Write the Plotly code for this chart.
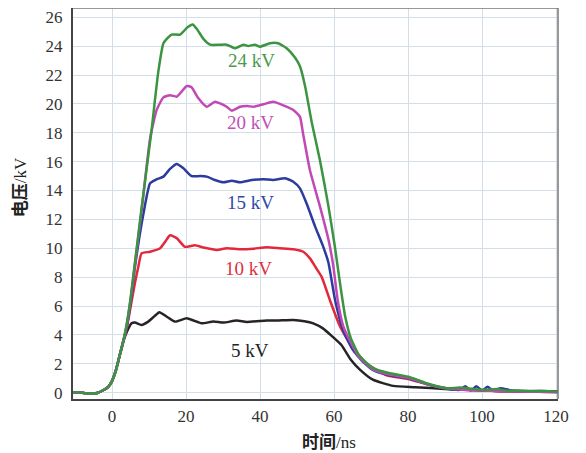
import plotly.graph_objects as go

# ---- data (time in ns, voltage in kV) ----
t_24 = [-10.5,-8,-6,-4,-2.5,-1,0,1,2,3,4,5,6.2,8,10.7,12.5,13.9,14.8,16.1,18.4,20.4,21.8,22.9,24.7,26.5,29.2,31,33.2,35.5,36.8,38.6,40,42.7,44.9,47.2,49.5,50.8,52.2,54,56.2,58.5,60.3,61.5,63,64.5,67,70.6,75.1,80.5,85,90.5,94,97.6,101,104,106.7,110,114,117,120.5]
v_24 = [0.03,0.0,-0.08,-0.02,0.15,0.4,0.8,1.5,2.5,3.5,4.8,6.5,9.0,12.8,18.2,22.2,24.2,24.5,24.8,24.8,25.3,25.5,25.2,24.5,24.1,24.1,24.1,23.85,24.1,24.0,24.1,23.96,24.2,24.2,23.85,23.2,22.6,21.2,18.7,16.1,12.9,10.0,7.8,5.3,3.8,2.5,1.7,1.34,1.07,0.65,0.3,0.35,0.26,0.2,0.25,0.14,0.15,0.1,0.12,0.07]

t_20 = [-10.5,-8,-6,-4,-2.5,-1,0,1,2,3,4,5,6.2,8,10.3,12.1,13.9,15.7,17.5,18.8,20.2,21.5,23.3,25.6,27.8,29.2,31,32.4,34.6,36.5,38.2,40.9,43.6,46.3,49,50.8,51.6,53.5,56.2,58.5,59.8,61,62.5,64.5,67,70.6,75,80.5,85,90.5,95,100,105,110,115,120.5]
v_20 = [0.03,0.0,-0.08,-0.02,0.15,0.4,0.8,1.5,2.5,3.5,4.7,6.4,8.9,12.6,17.6,19.6,20.45,20.6,20.5,20.85,21.24,21.15,20.4,19.8,20.15,20.04,19.8,19.53,19.8,19.85,19.8,19.97,20.15,19.9,19.58,19.1,18.0,15.4,12.9,10.6,8.8,6.4,4.6,3.5,2.4,1.6,1.25,1.0,0.6,0.3,0.2,0.15,0.1,0.08,0.06,0.05]

t_15 = [-10.5,-8,-6,-4,-2.5,-1,0,1,2,3,4,5,6.2,8.5,10.3,12.1,13.9,15.7,17.5,19.3,21.5,23.8,25.6,27.8,30.1,32.4,34.6,37.8,40.9,43.6,46.8,49,50.8,52.6,54.9,57.1,58.5,60.3,62.5,65,68,71,75,80,85,90,94,95.5,97,98.5,100,101.5,103,105,108,112,116,120.5]
v_15 = [0.03,0.0,-0.08,-0.02,0.15,0.4,0.8,1.5,2.5,3.5,4.6,6.2,8.7,12.4,14.5,14.78,14.96,15.5,15.84,15.54,15.0,15.0,14.96,14.73,14.57,14.68,14.57,14.73,14.78,14.73,14.85,14.61,14.15,13.1,11.5,10.1,9.0,6.4,4.3,3.0,2.1,1.5,1.2,1.0,0.6,0.3,0.2,0.45,0.15,0.45,0.15,0.4,0.15,0.3,0.15,0.1,0.12,0.08]

t_10 = [-10.5,-8,-6,-4,-2.5,-1,0,1,2,3,4,5,6.2,7.1,8.0,10.3,13,14.5,15.7,17.5,19.7,22.4,24.7,28.3,31,34.6,38.2,41.8,45.4,49,51.7,53.5,55,56.7,58.9,61.6,64.8,68.9,74.2,80,85,90,95,100,105,110,115,120.5]
v_10 = [0.03,0.0,-0.08,-0.02,0.15,0.4,0.8,1.5,2.5,3.5,4.5,5.9,7.6,8.7,9.65,9.76,10.0,10.5,10.9,10.7,10.1,10.2,10.05,9.88,10.0,9.93,9.97,10.07,10.0,9.93,9.76,9.3,8.7,8.0,6.4,4.6,3.2,2.0,1.2,0.95,0.6,0.3,0.2,0.15,0.1,0.08,0.06,0.05]

t_5 = [-10.5,-8,-6,-4,-2.5,-1,0,1,2,3,4,5.3,6.2,8.0,9.8,11.5,12.8,14.8,17,20.2,22,24.2,27.4,30.1,33.7,36.4,41.8,45,49,52,54.4,57,59.5,62,64.5,67,70.5,76,82,90,95,100,105,110,115,120.5]
v_5 = [0.03,0.0,-0.08,-0.02,0.15,0.4,0.8,1.5,2.5,3.5,4.2,4.8,4.85,4.69,4.92,5.3,5.57,5.26,4.92,5.15,5.0,4.8,4.92,4.85,4.99,4.9,4.99,5.0,5.03,4.95,4.8,4.45,3.9,3.3,2.3,1.6,0.9,0.47,0.38,0.25,0.2,0.15,0.1,0.08,0.06,0.05]

series = [
    ("5 kV", t_5, v_5, "#252525"),
    ("10 kV", t_10, v_10, "#e4283c"),
    ("15 kV", t_15, v_15, "#2b3c9e"),
    ("20 kV", t_20, v_20, "#c248b6"),
    ("24 kV", t_24, v_24, "#3a9440"),
]

label_pos = {
    "24 kV": (37.7, 23.0, "#4a9a4a"),
    "20 kV": (37.3, 18.7, "#c050b8"),
    "15 kV": (37.3, 13.2, "#3048a8"),
    "10 kV": (37.0, 8.6, "#e03040"),
    "5 kV": (37.2, 2.9, "#222222"),
}

x_ticks = [0, 20, 40, 60, 80, 100, 120]
y_ticks = list(range(0, 27, 2))

SERIF = "Liberation Serif, Noto Sans CJK SC, serif"

fig = go.Figure()
for name, t, v, c in series:
    fig.add_trace(go.Scatter(x=t, y=v, mode="lines", name=name,
                             line=dict(color=c, width=2.5, shape="spline", smoothing=0.5),
                             showlegend=False))

for name, (lx, ly, col) in label_pos.items():
    fig.add_annotation(x=lx, y=ly, xref="x", yref="y", text=name, showarrow=False,
                       font=dict(family=SERIF, size=19, color=col))

fig.add_annotation(x=0.528, y=-0.1125, xref="paper", yref="paper", text="<b>时间</b>/ns",
                   showarrow=False, xanchor="center", yanchor="middle",
                   font=dict(family=SERIF, size=17, color="#222"))
fig.add_annotation(x=-0.109, y=0.542, xref="paper", yref="paper", text="<b>电压</b>/kV",
                   showarrow=False, textangle=-90, xanchor="center", yanchor="middle",
                   font=dict(family=SERIF, size=17, color="#222"))

# top and right frame lines (lighter)
fig.add_shape(type="line", xref="paper", yref="paper", x0=0, x1=1, y0=1, y1=1,
              line=dict(color="#777", width=1.5))
fig.add_shape(type="line", xref="paper", yref="paper", x0=1, x1=1, y0=0, y1=1,
              line=dict(color="#777", width=1.5))

# page body has an 8px margin, so the figure is sized/offset to compensate
fig.update_layout(
    width=578, height=445,
    margin=dict(l=65, r=28, t=0, b=54),
    plot_bgcolor="white", paper_bgcolor="white",
    xaxis=dict(range=[-10.54, 120.54], tickvals=x_ticks, showgrid=True, gridcolor="#d3dee8",
               gridwidth=1, zeroline=False, showline=True, linecolor="#444", linewidth=2,
               ticks="", ticklabelstandoff=1, automargin=False,
               tickfont=dict(family=SERIF, size=17, color="#333")),
    yaxis=dict(range=[-0.44, 26.64], tickvals=y_ticks, showgrid=True, gridcolor="#d3dee8",
               gridwidth=1, zeroline=False, showline=True, linecolor="#444", linewidth=2,
               ticks="", ticklabelstandoff=5, automargin=False,
               tickfont=dict(family=SERIF, size=17, color="#333")),
)

fig.write_html("out.html")
